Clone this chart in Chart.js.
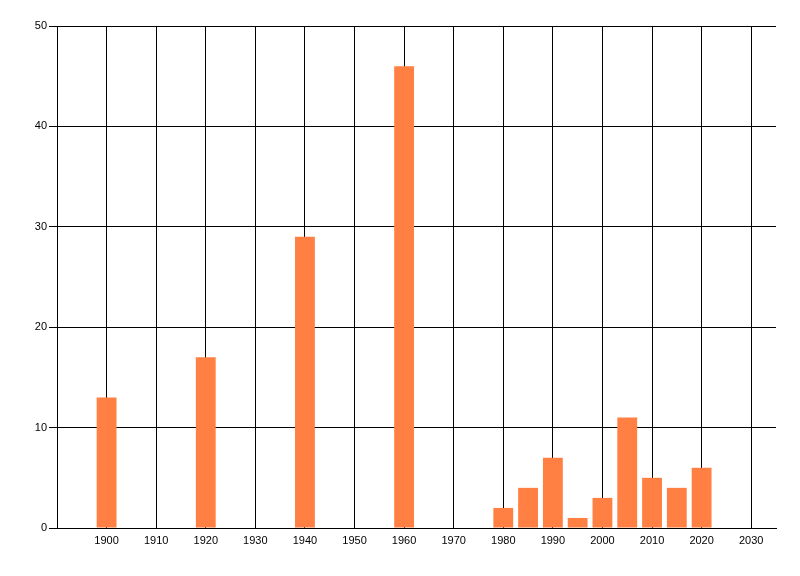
<!DOCTYPE html>
<html lang="en">
<head>
    <meta charset="UTF-8">
    <title>Bar chart by year</title>
    <style>
        body { margin: 0; background: #fff; }
        canvas { display: block; }
    </style>
</head>
<body>
    <canvas id="yearChart" width="800" height="576"></canvas>

    <script src="https://cdn.jsdelivr.net/npm/chart.js"></script>
    <script>
var years = [1900, 1920, 1940, 1960, 1980, 1985, 1990, 1995, 2000, 2005, 2010, 2015, 2020];
var counts = [13, 17, 29, 46, 2, 4, 7, 1, 3, 11, 5, 4, 6];
var xTickYears = [1900, 1910, 1920, 1930, 1940, 1950, 1960, 1970, 1980, 1990, 2000, 2010, 2020, 2030];
var yTickValues = [0, 10, 20, 30, 40, 50];

var labelFont = { family: "'Liberation Sans', Arial, sans-serif", size: 11 };

var points = years.map(function (y, i) { return { x: y, y: counts[i] }; });

var ctx = document.getElementById('yearChart').getContext('2d');
new Chart(ctx, {
    type: 'bar',
    data: {
        datasets: [{
            data: points,
            backgroundColor: '#ff8042',
            borderWidth: 0,
            barPercentage: 0.8,
            categoryPercentage: 1.0
        }]
    },
    options: {
        responsive: false,
        animation: false,
        layout: { padding: { top: 26, right: 24, left: 0, bottom: 0 } },
        plugins: { legend: { display: false }, tooltip: { enabled: false } },
        scales: {
            x: {
                type: 'linear',
                min: 1890,
                max: 2035,
                offset: false,
                afterBuildTicks: function (scale) {
                    scale.ticks = xTickYears.map(function (v) { return { value: v }; });
                },
                afterFit: function (scale) { scale.height = 48; },
                grid: { color: '#000', lineWidth: 1, drawTicks: false, offset: false },
                border: { display: true, color: '#000', width: 1 },
                ticks: {
                    color: '#000',
                    font: labelFont,
                    padding: 6,
                    maxRotation: 0,
                    autoSkip: false,
                    callback: function (v) { return String(v); }
                }
            },
            y: {
                min: 0,
                max: 50,
                afterBuildTicks: function (scale) {
                    scale.ticks = yTickValues.map(function (v) { return { value: v }; });
                },
                afterFit: function (scale) { scale.width = 57; },
                grid: { color: '#000', lineWidth: 1, tickLength: 8 },
                border: { display: true, color: '#000', width: 1 },
                ticks: { color: '#000', font: labelFont, padding: 2 }
            }
        }
    }
});
    </script>
</body>
</html>
